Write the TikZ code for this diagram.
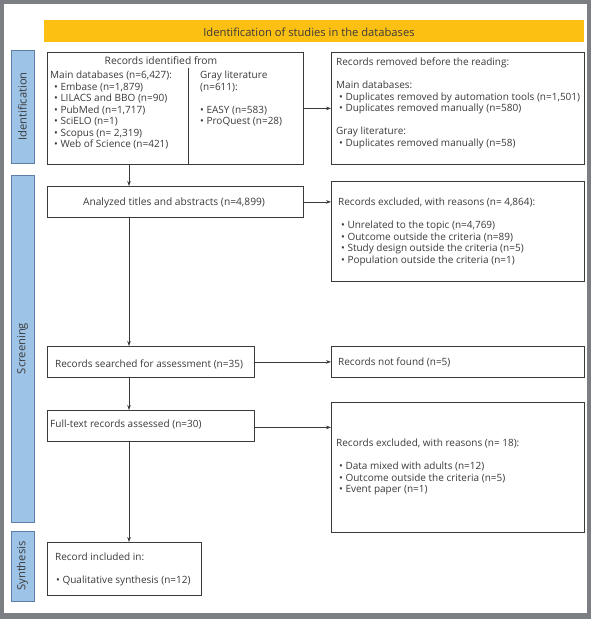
\documentclass[tikz,border=0pt]{standalone}
\usepackage{fontspec}
\setmainfont{Open Sans}
\usetikzlibrary{arrows.meta}
\definecolor{frame}{HTML}{7B7F83}
\definecolor{hdr}{HTML}{FCC012}
\definecolor{lblfill}{HTML}{9DC3E6}
\definecolor{lbldraw}{HTML}{5B7FA8}
\definecolor{ink}{HTML}{3A3A3A}
\begin{document}
\begin{tikzpicture}[x=1pt,y=-1pt,
  box/.style={draw=ink, line width=0.8pt, inner sep=0pt, anchor=north west},
  lbl/.style={draw=lbldraw, fill=lblfill, line width=0.6pt, inner sep=0pt, rotate=90,
    font=\fontsize{11.2}{13}\selectfont, text=ink},
  txt/.style={inner sep=0pt, anchor=base west, align=left, text=ink,
    font=\fontsize{10}{11.5}\selectfont},
  arr/.style={draw=ink, line width=0.7pt, -{Stealth[length=5pt,width=3.6pt]}}]
\useasboundingbox (0,0) rectangle (591,619);
\fill[frame] (0,0) rectangle (591,619);
\fill[white] (4,3.5) rectangle (587,613);
% header
\node[fill=hdr, inner sep=0pt, minimum width=540, minimum height=22, anchor=north west] (hdr) at (44,20) {};
\node[inner sep=0pt, anchor=base, text=ink, font=\fontsize{11.2}{13}\selectfont] (hdrtxt) at (309,36) {Identification of studies in the databases};
% side labels
\node[lbl, minimum width=113, minimum height=23] (lid) at (22.5,106.5) {Identification};
\node[lbl, minimum width=347, minimum height=23] (lscr) at (22.5,348.5) {Screening};
\node[lbl, minimum width=70, minimum height=23] (lsyn) at (22.5,566) {Synthesis};
% boxes
\node[box, minimum width=256, minimum height=112] (ident) at (47,52) {};
\node[box, minimum width=253, minimum height=112] (removed) at (331,52) {};
\node[box, minimum width=256, minimum height=31] (analyzed) at (47,186) {};
\node[box, minimum width=253, minimum height=100] (excl1) at (331,181) {};
\node[box, minimum width=207, minimum height=31] (searched) at (47,346) {};
\node[box, minimum width=253, minimum height=31] (notfound) at (331,346) {};
\node[box, minimum width=207, minimum height=31] (fulltext) at (47,410) {};
\node[box, minimum width=253, minimum height=130] (excl2) at (331,402) {};
\node[box, minimum width=154, minimum height=53] (included) at (47,542) {};
\coordinate (divtop) at (188.5,68);
\draw[draw=ink, line width=0.8pt] (divtop) -- (divtop |- ident.south);
% texts (multi-line nodes: base = baseline of last line)
\node[txt, anchor=base] (t1) at (161,64.5) {\fontsize{10.3}{11.5}\selectfont Records identified from};
\node[txt] (t2) at (50,147.5) {Main databases (n=6,427):\\
\hspace*{4pt}• Embase (n=1,879)\\
\hspace*{4pt}• LILACS and BBO (n=90)\\
\hspace*{4pt}• PubMed (n=1,717)\\
\hspace*{4pt}• SciELO (n=1)\\
\hspace*{4pt}• Scopus (n= 2,319)\\
\hspace*{4pt}• Web of Science (n=421)};
\node[txt] (t3) at (200,124.5) {Gray literature\\(n=611):\\[11.5pt]
• EASY (n=583)\\
• ProQuest (n=28)};
\node[txt] (t4) at (336,146) {Records removed before the reading:\\[11.5pt]
Main databases:\\
\hspace*{3pt}• Duplicates removed by automation tools (n=1,501)\\
\hspace*{3pt}• Duplicates removed manually (n=580)\\[11.5pt]
Gray literature:\\
\hspace*{3pt}• Duplicates removed manually (n=58)};
\node[txt, anchor=base, font=\fontsize{10.2}{12}\selectfont] (t5) at (174,205.5) {Analyzed titles and abstracts (n=4,899)};
\node[txt] (t6) at (338,263) {Records excluded, with reasons (n= 4,864):\\[11.5pt]
\hspace*{3pt}• Unrelated to the topic (n=4,769)\\
\hspace*{3pt}• Outcome outside the criteria (n=89)\\
\hspace*{3pt}• Study design outside the criteria (n=5)\\
\hspace*{3pt}• Population outside the criteria (n=1)};
\node[txt] (t7) at (55,367.5) {Records searched for assessment (n=35)};
\node[txt] (t8) at (338,365.5) {Records not found (n=5)};
\node[txt] (t9) at (50,427.5) {Full-text records assessed (n=30)};
\node[txt] (t10) at (336,492.5) {Records excluded, with reasons (n= 18):\\[11.5pt]
\hspace*{3pt}• Data mixed with adults (n=12)\\
\hspace*{3pt}• Outcome outside the criteria (n=5)\\
\hspace*{3pt}• Event paper (n=1)};
\node[txt] (t11) at (55,583.5) {Record included in:\\[11.5pt]
\hspace*{1pt}• Qualitative synthesis (n=12)};
% arrows
\coordinate (vx) at (129,0);
\draw[arr] (ident) -- (removed);
\draw[arr] (ident.south -| vx) -- (analyzed.north -| vx);
\draw[arr] (analyzed.east) -- (analyzed.east -| excl1.west);
\draw[arr] (analyzed.south -| vx) -- (searched.north -| vx);
\draw[arr] (searched) -- (notfound);
\draw[arr] (searched.south -| vx) -- (fulltext.north -| vx);
\draw[arr] ([yshift=-1.5pt]fulltext.east) -- ([yshift=-1.5pt]fulltext.east -| excl2.west);
\draw[arr] (fulltext.south -| vx) -- (included.north -| vx);
\end{tikzpicture}
\end{document}
